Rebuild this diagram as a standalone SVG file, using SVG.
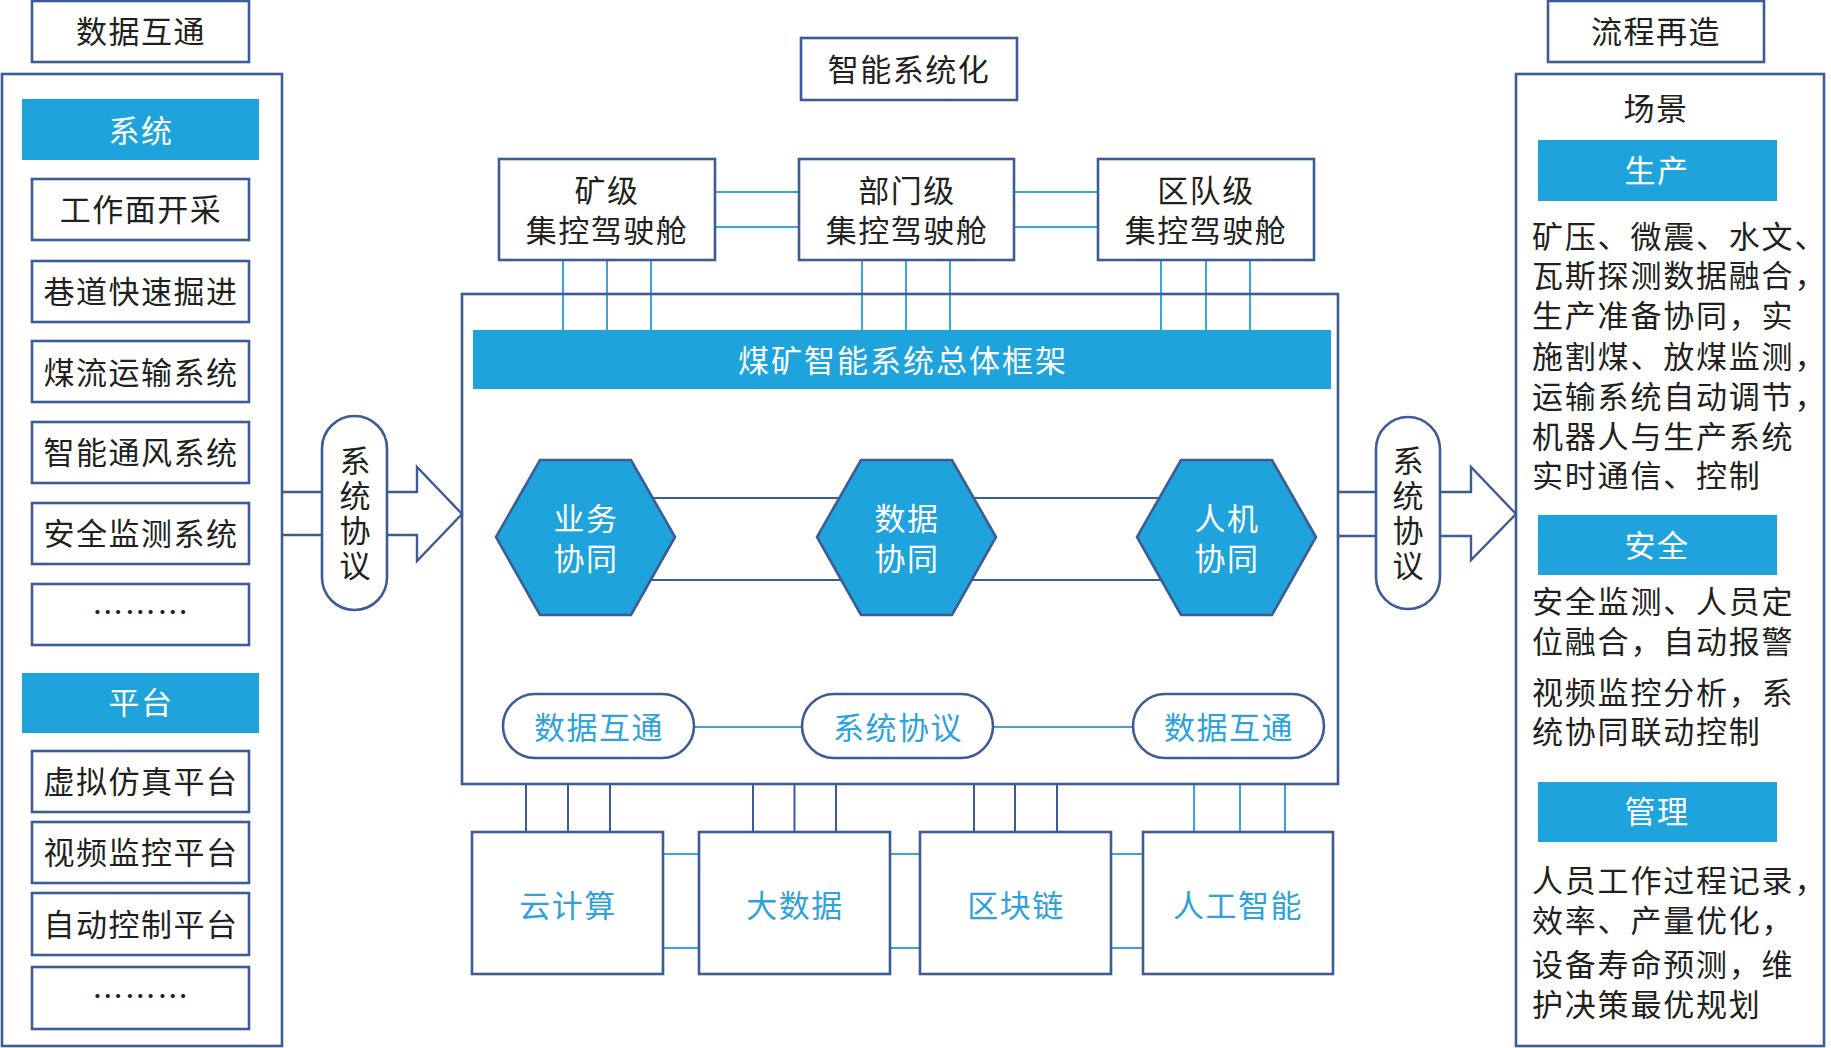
<svg xmlns="http://www.w3.org/2000/svg" width="1831" height="1048" viewBox="0 0 1831 1048">
<style>
text{font-family:"Noto Sans CJK SC","Noto Sans",sans-serif;font-size:31px;letter-spacing:1.5px;dominant-baseline:central}
.box{fill:#fff;stroke:#3d5b94;stroke-width:2.6}
.bar{fill:#1fa3dc}
.hex{fill:#1fa3dc;stroke:#3d5b94;stroke-width:2.6}
.t{fill:#231f20;text-anchor:middle}
.w{fill:#fff;text-anchor:middle}
.b{fill:#2ea2dc;text-anchor:middle}
.p{fill:#231f20;letter-spacing:1.8px}
.v{fill:#231f20;text-anchor:middle;writing-mode:vertical-rl;letter-spacing:4px}
.ln{stroke:#3ba4dc;stroke-width:2;fill:none}
.nv{stroke:#3d5b94;stroke-width:2;fill:none}
.ar{stroke:#3d5b94;stroke-width:2.4;fill:#fff}
</style>
<rect width="1831" height="1048" fill="#fff"/>

<g id="connectors">
  <path class="ln" d="M715,192H799M715,227H799M1014,192H1098M1014,227H1098"/>
  <path class="ln" d="M563,260V330M607,260V330M651,260V330M862,260V330M906,260V330M950,260V330M1161,260V330M1206,260V330M1250,260V330"/>
  <path class="nv" d="M586,498H1226M586,580H1226"/>
  <path class="ln" d="M694,727H802M993,727H1133"/>
  <path class="nv" d="M526,784V832M568,784V832M610,784V832M753,784V832M794.5,784V832M836,784V832M974,784V832M1015,784V832M1057,784V832"/>
  <path class="ln" d="M1194,784V832M1240,784V832M1285,784V832"/>
  <path class="ln" d="M663,854H699M663,948H699M890,854H920M890,948H920M1111,854H1143M1111,948H1143"/>
  <path class="ar" d="M282,492H417V467L462,514L417,561V535H282"/>
  <path class="ar" d="M1338,492H1471V467L1516,514L1471,560V536H1338"/>
</g>

<g id="left-title"><rect class="box" x="32" y="1" width="217" height="61"/><text class="t" x="141" y="29">数据互通</text></g>
<g id="left-container"><rect class="box" x="2" y="74" width="280" height="972"/></g>
<g id="left-system-bar"><rect class="bar" x="22" y="99" width="237" height="61"/><text class="w" x="141" y="128">系统</text></g>
<g id="l1"><rect class="box" x="32" y="179" width="217" height="61"/><text class="t" x="141" y="207">工作面开采</text></g>
<g id="l2"><rect class="box" x="32" y="261" width="217" height="61"/><text class="t" x="141" y="289">巷道快速掘进</text></g>
<g id="l3"><rect class="box" x="32" y="341" width="217" height="61"/><text class="t" x="141" y="370">煤流运输系统</text></g>
<g id="l4"><rect class="box" x="32" y="422" width="217" height="61"/><text class="t" x="141" y="450">智能通风系统</text></g>
<g id="l5"><rect class="box" x="32" y="503" width="217" height="61"/><text class="t" x="141" y="531">安全监测系统</text></g>
<g id="l6"><rect class="box" x="32" y="584" width="217" height="61"/><text class="t" x="141" y="609">………</text></g>
<g id="left-platform-bar"><rect class="bar" x="22" y="673" width="237" height="60"/><text class="w" x="141" y="700">平台</text></g>
<g id="l7"><rect class="box" x="32" y="751" width="217" height="61"/><text class="t" x="141" y="779">虚拟仿真平台</text></g>
<g id="l8"><rect class="box" x="32" y="822" width="217" height="61"/><text class="t" x="141" y="850">视频监控平台</text></g>
<g id="l9"><rect class="box" x="32" y="893" width="217" height="62"/><text class="t" x="141" y="922">自动控制平台</text></g>
<g id="l10"><rect class="box" x="32" y="967" width="217" height="62"/><text class="t" x="141" y="993">………</text></g>

<g id="left-protocol"><rect class="box" x="322" y="416" width="65" height="194" rx="32.5"/>
<text class="v" x="355" y="515">系统协议</text></g>

<g id="center-title"><rect class="box" x="801" y="38" width="216" height="62"/><text class="t" x="909" y="67">智能系统化</text></g>
<g id="c-mine"><rect class="box" x="499" y="159" width="216" height="101"/><text class="t"><tspan x="607" y="188">矿级</tspan><tspan x="607" y="228">集控驾驶舱</tspan></text></g>
<g id="c-dept"><rect class="box" x="799" y="159" width="215" height="101"/><text class="t"><tspan x="907" y="188">部门级</tspan><tspan x="907" y="228">集控驾驶舱</tspan></text></g>
<g id="c-team"><rect class="box" x="1098" y="159" width="216" height="101"/><text class="t"><tspan x="1206" y="188">区队级</tspan><tspan x="1206" y="228">集控驾驶舱</tspan></text></g>

<g id="center-container"><rect class="box" x="462" y="294" width="876" height="490" style="fill:none"/></g>
<g id="framework-bar"><rect class="bar" x="473" y="330" width="858" height="59"/><text class="w" x="903" y="358" style="letter-spacing:2px">煤矿智能系统总体框架</text></g>

<g id="hex1"><polygon class="hex" points="540,460 631,460 675,537 631,615 540,615 496,537"/><text class="w"><tspan x="586" y="516">业务</tspan><tspan x="586" y="556">协同</tspan></text></g>
<g id="hex2"><polygon class="hex" points="861,460 952,460 996,537 952,615 861,615 817,537"/><text class="w"><tspan x="907" y="516">数据</tspan><tspan x="907" y="556">协同</tspan></text></g>
<g id="hex3"><polygon class="hex" points="1181,460 1272,460 1316,537 1272,615 1181,615 1137,537"/><text class="w"><tspan x="1227" y="516">人机</tspan><tspan x="1227" y="556">协同</tspan></text></g>

<g id="pill1"><rect class="box" x="503" y="694" width="191" height="64" rx="32"/><text class="b" x="599" y="725">数据互通</text></g>
<g id="pill2"><rect class="box" x="802" y="694" width="191" height="64" rx="32"/><text class="b" x="898" y="725">系统协议</text></g>
<g id="pill3"><rect class="box" x="1133" y="694" width="191" height="64" rx="32"/><text class="b" x="1229" y="725">数据互通</text></g>

<g id="b1"><rect class="box" x="472" y="832" width="191" height="142"/><text class="b" x="568" y="903">云计算</text></g>
<g id="b2"><rect class="box" x="699" y="832" width="191" height="142"/><text class="b" x="795" y="903">大数据</text></g>
<g id="b3"><rect class="box" x="920" y="832" width="191" height="142"/><text class="b" x="1016" y="903">区块链</text></g>
<g id="b4"><rect class="box" x="1143" y="832" width="190" height="142"/><text class="b" x="1238" y="903">人工智能</text></g>

<g id="right-protocol"><rect class="box" x="1376" y="417" width="64" height="192" rx="32"/>
<text class="v" x="1408" y="515">系统协议</text></g>

<g id="right-title"><rect class="box" x="1548" y="1" width="216" height="61"/><text class="t" x="1656" y="29">流程再造</text></g>
<g id="right-container"><rect class="box" x="1516" y="74" width="308" height="972"/><text class="t" x="1656" y="106">场景</text></g>
<g id="production"><rect class="bar" x="1538" y="140" width="239" height="61"/><text class="w" x="1657" y="168">生产</text>
<text class="p"><tspan x="1532" y="234">矿压、微震、水文、</tspan><tspan x="1532" y="273">瓦斯探测数据融合，</tspan><tspan x="1532" y="313">生产准备协同，实</tspan><tspan x="1532" y="354">施割煤、放煤监测，</tspan><tspan x="1532" y="394">运输系统自动调节，</tspan><tspan x="1532" y="434">机器人与生产系统</tspan><tspan x="1532" y="473">实时通信、控制</tspan></text></g>
<g id="safety"><rect class="bar" x="1538" y="515" width="239" height="60"/><text class="w" x="1657" y="543">安全</text>
<text class="p"><tspan x="1532" y="599">安全监测、人员定</tspan><tspan x="1532" y="639">位融合，自动报警</tspan><tspan x="1532" y="690">视频监控分析，系</tspan><tspan x="1532" y="729">统协同联动控制</tspan></text></g>
<g id="management"><rect class="bar" x="1538" y="782" width="239" height="60"/><text class="w" x="1657" y="809">管理</text>
<text class="p"><tspan x="1532" y="878">人员工作过程记录，</tspan><tspan x="1532" y="918">效率、产量优化，</tspan><tspan x="1532" y="962">设备寿命预测，维</tspan><tspan x="1532" y="1002">护决策最优规划</tspan></text></g>
</svg>
